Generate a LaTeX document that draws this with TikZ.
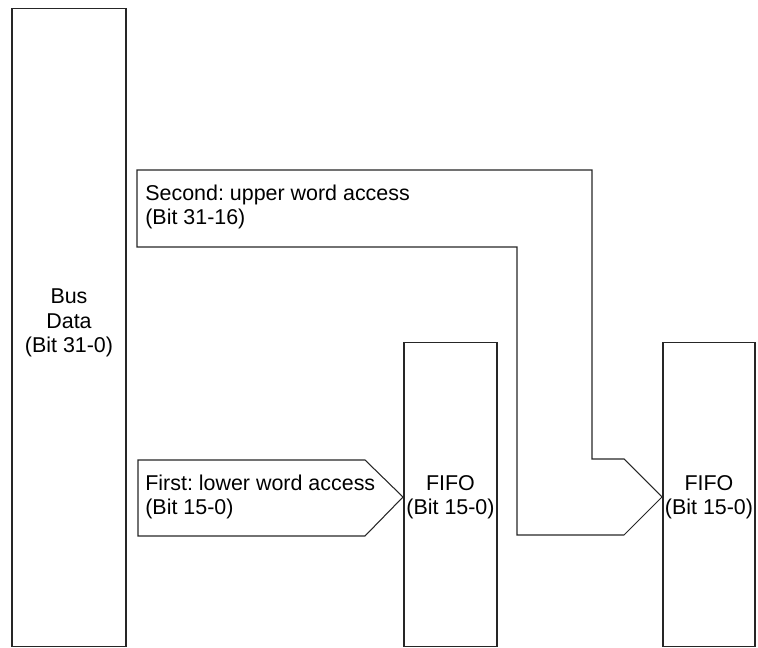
\documentclass[tikz,border=0pt]{standalone}
\usepackage{fontspec}
\setmainfont{Liberation Sans}
\usetikzlibrary{positioning,calc}
\frenchspacing
\tikzset{
  block/.style={draw=black!85, line width=0.6pt, align=center, inner sep=0pt},
  flow/.style={draw=black!85, line width=0.6pt, line join=miter},
  label/.style={align=left, inner sep=0pt, anchor=west},
  txt/.style={font=\fontsize{12.2}{13.8}\selectfont}
}
\begin{document}
\begin{tikzpicture}[x=0.02cm,y=-0.02cm,txt]
  \useasboundingbox (0,0) rectangle (758,648);
  % storage blocks
  \node[block, minimum width=2.28cm, minimum height=12.78cm] (bus) at (69,327.5) {};
  \node[block, minimum width=1.86cm, minimum height=6.1cm] (fifoA) at (450.5,494.5) {};
  \node[block, minimum width=1.84cm, minimum height=6.1cm] (fifoB) at (709,494.5) {};
  \node[align=center, inner sep=0pt] (busText) at (69,323) {Bus\\Data\\(Bit 31-0)};
  \node[align=center, inner sep=0pt] (fifoAText) at (fifoA |- 0,497) {FIFO\\(Bit 15-0)};
  \node[align=center, inner sep=0pt] (fifoBText) at (fifoB |- 0,497) {FIFO\\(Bit 15-0)};
  % access paths
  \draw[flow] (138,460) -- (365,460) -- (403,497) -- (365,536) -- (138,536) -- cycle;
  \draw[flow] (137,170) -- (592,170) -- (592,459) -- (624,459) -- (662,497)
    -- (624,535) -- (517,535) -- (517,247) -- (137,247) -- cycle;
  \node[label] (first) at (145,497) {First: lower word access\\(Bit 15-0)};
  \node[label] (second) at (145,207) {Second: upper word access\\(Bit 31-16)};
\end{tikzpicture}
\end{document}
